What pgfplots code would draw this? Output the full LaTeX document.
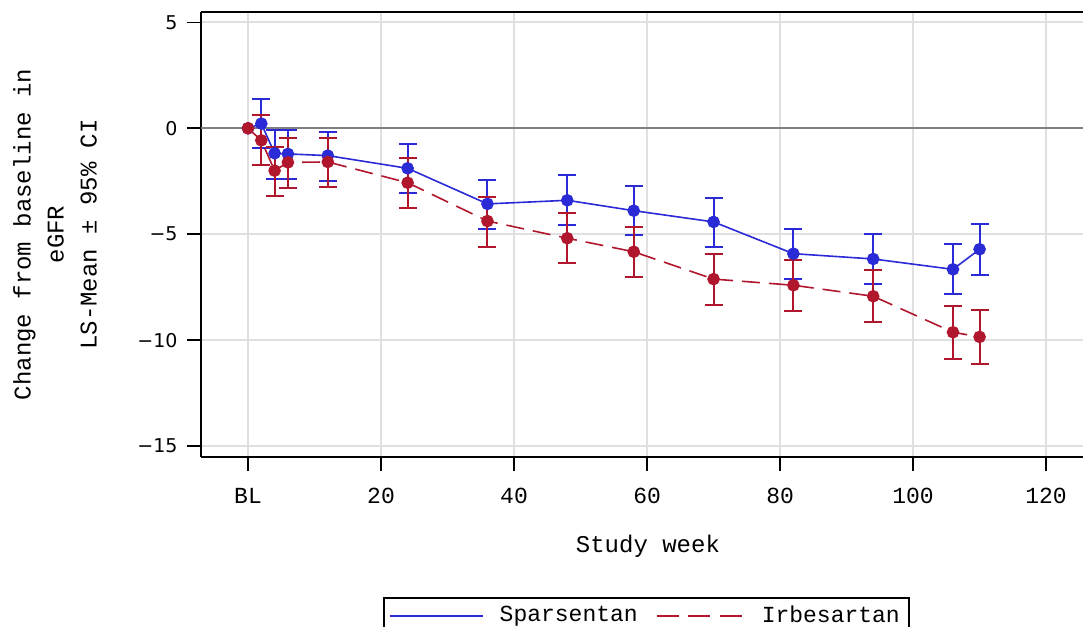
\documentclass[border=0pt]{standalone}
\usepackage{fontspec}
\setmainfont{Liberation Mono}
\newfontfamily\numsans{DejaVu Sans}
\usepackage{pgfplots}
\usepackage{pgfplotstable}
\pgfplotsset{compat=1.18}
\definecolor{spblue}{RGB}{42,42,214}
\definecolor{irred}{RGB}{176,22,44}
\definecolor{gridgray}{RGB}{224,224,224}
\definecolor{zerogray}{RGB}{128,128,128}

\pgfplotsset{
  blueleg/.style={legend image code/.code={\draw[draw=spblue, line width=1pt] (0pt,0pt) -- (46.5pt,0pt);}},
  redleg/.style={legend image code/.code={\draw[draw=irred, line width=1pt, dash pattern=on 11pt off 4.75pt] (0pt,0pt) -- (44pt,0pt);}},
}

% LS-mean change with 95% CI limits
\pgfplotstableread{
week mean lo hi
0 0 0 0
2 0.22 -0.94 1.37
4 -1.18 -2.39 -0.08
6 -1.21 -2.39 -0.08
12 -1.29 -2.47 -0.16
24 -1.89 -3.07 -0.76
36 -3.57 -4.75 -2.44
48 -3.40 -4.57 -2.22
58 -3.89 -5.04 -2.71
70 -4.42 -5.62 -3.29
82 -5.92 -7.12 -4.75
94 -6.17 -7.37 -4.99
106 -6.66 -7.81 -5.45
110 -5.71 -6.93 -4.50
}\spars

\pgfplotstableread{
week mean lo hi
0 0 0 0
2 -0.57 -1.72 0.63
4 -2.00 -3.20 -0.87
6 -1.61 -2.80 -0.47
12 -1.59 -2.76 -0.44
24 -2.57 -3.78 -1.42
36 -4.38 -5.59 -3.23
48 -5.19 -6.37 -4.01
58 -5.83 -7.04 -4.66
70 -7.12 -8.34 -5.92
82 -7.41 -8.61 -6.20
94 -7.93 -9.16 -6.69
106 -9.63 -10.88 -8.39
110 -9.85 -11.13 -8.58
}\irbes

\newcommand\yt[1]{\mbox{\numsans\fontsize{9.5}{11}\selectfont #1}}

\begin{document}
\begin{tikzpicture}
\begin{axis}[
  scale only axis,
  width=442.5pt, height=222.5pt,
  xmin=-7.07, xmax=126,
  ymin=-15.52, ymax=5.49,
  axis x line=box, axis y line*=left,
  axis line style={black, line width=0.8pt},
  xtick={0,20,40,60,80,100,120},
  xticklabels={BL,20,40,60,80,100,120},
  ytick={-15,-10,-5,0,5},
  yticklabels={\yt{−15},\yt{−10},\yt{−5},\yt{0},\yt{5}},
  xtick pos=bottom, ytick pos=left,
  tick align=outside,
  major tick length=7pt,
  tick style={black, line width=0.8pt},
  grid=major,
  major grid style={gridgray, line width=1pt},
  xticklabel style={font=\fontsize{11.5}{13}\selectfont, yshift=-5pt},
  yticklabel style={font=\fontsize{9.5}{11}\selectfont, xshift=-1.2pt},
  xlabel={Study week},
  ylabel={Change from baseline in\\eGFR\\LS-Mean ± 95\% CI},
  every axis x label/.style={at={(axis description cs:0.505,0)}, anchor=center, yshift=-44.5pt, font=\fontsize{12}{14}\selectfont},
  every axis y label/.style={at={(axis description cs:-0.165,0.5)}, rotate=90, anchor=center, align=center, font=\fontsize{12}{16.5}\selectfont},
  legend columns=2,
  legend style={at={(0.2056,-0.3146)}, anchor=north west, draw=black, line width=0.8pt,
    font=\fontsize{11.5}{13}\selectfont, inner xsep=2.5pt, inner ysep=2pt,
    /tikz/every odd column/.append style={column sep=6pt},
    /tikz/every even column/.append style={column sep=7pt}},
]
\draw[zerogray, line width=1pt] (axis cs:-7.07,0) -- (axis cs:126,0);

% error bars (baseline has none)
\addplot[draw=none, forget plot, skip coords between index={0}{1},
  error bars/.cd, y dir=both, y explicit,
  error bar style={draw=spblue, line width=1pt, solid},
  error mark options={draw=spblue, rotate=90, mark size=4.5pt, line width=1pt}]
  table[x=week, y=mean, y error plus expr=\thisrow{hi}-\thisrow{mean}, y error minus expr=\thisrow{mean}-\thisrow{lo}] {\spars};
\addplot[spblue, line width=0.8pt, mark=*, mark size=2.75pt, mark options={solid}, blueleg]
  table[x=week, y=mean] {\spars};
\addlegendentry{Sparsentan}

\addplot[draw=none, forget plot, skip coords between index={0}{1},
  error bars/.cd, y dir=both, y explicit,
  error bar style={draw=irred, line width=1pt, solid},
  error mark options={draw=irred, rotate=90, mark size=4.5pt, line width=1pt}]
  table[x=week, y=mean, y error plus expr=\thisrow{hi}-\thisrow{mean}, y error minus expr=\thisrow{mean}-\thisrow{lo}] {\irbes};
\addplot[irred, line width=0.8pt, dash pattern=on 9pt off 4.5pt, mark=*, mark size=2.75pt, mark options={solid}, redleg]
  table[x=week, y=mean] {\irbes};
\addlegendentry{Irbesartan}
\end{axis}
\pgfresetboundingbox
\path[use as bounding box] (-100.5pt,-85pt) rectangle (441pt,228.5pt);
\end{tikzpicture}
\end{document}
